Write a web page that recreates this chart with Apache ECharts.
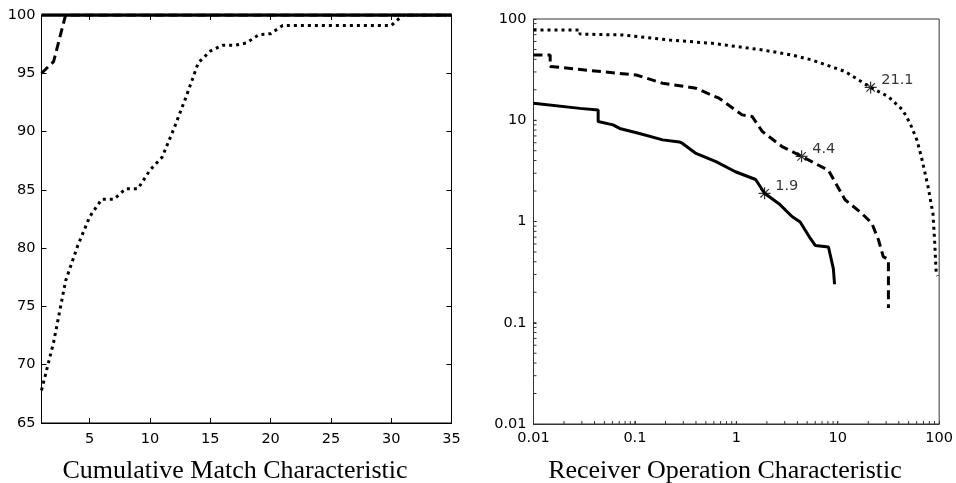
<!DOCTYPE html>
<html>
<head>
<meta charset="utf-8">
<script src="https://cdn.jsdelivr.net/npm/echarts@6/dist/echarts.min.js"></script>
<style>
  html, body { margin: 0; padding: 0; background: #fff; }
  #chart { width: 956px; height: 483px; }
</style>
</head>
<body>
<div id="chart"></div>
<script>
// Cumulative Match Characteristic (rank 1..35)
var ranks = [];
for (var r = 1; r <= 35; r++) ranks.push(r);
var cmcSolid = [100,100,100,100,100,100,100,100,100,100,100,100,100,100,100,100,100,100,100,100,100,100,100,100,100,100,100,100,100,100,100,100,100,100,100];
var cmcDashed = [95,96,100,100,100,100,100,100,100,100,100,100,100,100,100,100,100,100,100,100,100,100,100,100,100,100,100,100,100,100,100,100,100,100,100];
var cmcDotted = [67.8,71.9,77.2,80.2,82.7,84.2,84.2,85.1,85.1,86.7,87.8,90.3,93.0,95.9,96.9,97.4,97.4,97.6,98.3,98.4,99.1,99.1,99.1,99.1,99.1,99.1,99.1,99.1,99.1,99.1,100,100,100,100,100];
var cmcTicks = [5, 10, 15, 20, 25, 30, 35];

// Receiver Operation Characteristic (FAR %, FRR %)
var rocSolidX = [0.01,0.0287,0.0434,0.0434,0.0609,0.0707,0.111,0.188,0.274,0.295,0.40,0.63,0.98,1.55,1.9,2.63,3.54,4.26,5.37,6.0,8.1,9.06,9.3];
var rocSolidY = [14.7,13.1,12.6,9.7,9.0,8.3,7.4,6.4,6.1,5.9,4.7,3.9,3.1,2.6,1.9,1.5,1.12,0.99,0.68,0.58,0.56,0.34,0.24];
var rocDashedX = [0.01,0.0146,0.0146,0.036,0.103,0.188,0.40,0.675,1.14,1.43,1.8,2.82,4.4,8.1,11.8,17.3,21.7,25.2,28.1,31.6,31.6];
var rocDashedY = [44,44,34,31,28,23.2,20.7,16.5,11.3,10.9,7.76,5.5,4.4,3.2,1.64,1.2,0.96,0.66,0.45,0.42,0.14];
var rocDottedX = [0.01,0.0287,0.0287,0.0762,0.219,0.58,1.8,3.54,5.56,11.8,21.1,31.6,43.7,51.7,60.3,66.7,77.6,86.8,90.1,93.5,96.5];
var rocDottedY = [78,78,71,69.5,62,57.5,49.5,44.1,39.4,30.3,21.1,17.1,12.6,9.3,6.4,4.37,2.22,1.2,0.66,0.31,0.29];
var eerValues = [1.9, 4.4, 21.1];
var logTicks = [0.02,0.03,0.04,0.05,0.06,0.07,0.08,0.09,
  0.1,0.2,0.3,0.4,0.5,0.6,0.7,0.8,0.9,
  1,2,3,4,5,6,7,8,9,
  10,20,30,40,50,60,70,80,90];

function zip(xs, ys) {
  return xs.map(function (x, i) { return [x, ys[i]]; });
}

var tickFont = { fontFamily: 'DejaVu Sans', fontSize: 14.5, color: '#000' };
var black = { color: '#000', width: 1 };
var gray = { color: '#333', width: 1 };

// minor ticks of the log axes, placed through the axes' own scales
function logTickItem(params, api) {
  var v = api.value(0);
  var px = api.coord([v, 0.01]);
  var py = api.coord([0.01, v]);
  var st = { stroke: '#333', lineWidth: 1 };
  return {
    type: 'group',
    children: [
      { type: 'line', shape: { x1: px[0], y1: px[1], x2: px[0], y2: px[1] - 3 }, style: st },
      { type: 'line', shape: { x1: py[0], y1: py[1], x2: py[0] + 3, y2: py[1] }, style: st }
    ]
  };
}

var chart = echarts.init(document.getElementById('chart'));

chart.setOption({
  animation: false,
  backgroundColor: '#fff',
  grid: [
    { left: 41.5, top: 15, width: 410, height: 408, show: true, borderColor: '#000', borderWidth: 1, backgroundColor: 'transparent' },
    { left: 533.5, top: 19, width: 408, height: 405, show: true, borderColor: '#333', borderWidth: 1, backgroundColor: 'transparent' }
  ],
  xAxis: [
    {
      gridIndex: 0, type: 'value', min: 1, max: 35, position: 'bottom',
      axisLine: { show: true, onZero: false, lineStyle: black },
      axisTick: { inside: true, length: 5, lineStyle: black, customValues: cmcTicks },
      axisLabel: Object.assign({ margin: 9, customValues: cmcTicks }, tickFont),
      splitLine: { show: false }
    },
    {
      gridIndex: 0, type: 'value', min: 1, max: 35, position: 'top',
      axisLine: { show: true, onZero: false, lineStyle: black },
      axisTick: { inside: true, length: 5, lineStyle: black, customValues: cmcTicks },
      axisLabel: { show: false },
      splitLine: { show: false }
    },
    {
      gridIndex: 1, type: 'log', logBase: 10, min: 0.01, max: 100, position: 'bottom',
      axisLine: { show: true, onZero: false, lineStyle: gray },
      axisTick: { show: true, inside: true, length: 3, lineStyle: gray },
      axisLabel: Object.assign({ margin: 7 }, tickFont),
      splitLine: { show: false }
    }
  ],
  yAxis: [
    {
      gridIndex: 0, type: 'value', min: 65, max: 100, interval: 5, position: 'left',
      axisLine: { show: true, onZero: false, lineStyle: black },
      axisTick: { inside: true, length: 5, lineStyle: black },
      axisLabel: Object.assign({ margin: 6 }, tickFont),
      splitLine: { show: false }
    },
    {
      gridIndex: 0, type: 'value', min: 65, max: 100, interval: 5, position: 'right',
      axisLine: { show: true, onZero: false, lineStyle: black },
      axisTick: { inside: true, length: 5, lineStyle: black },
      axisLabel: { show: false },
      splitLine: { show: false }
    },
    {
      gridIndex: 1, type: 'log', logBase: 10, min: 0.01, max: 100, position: 'left',
      axisLine: { show: true, onZero: false, lineStyle: gray },
      axisTick: { show: true, inside: true, length: 3, lineStyle: gray },
      axisLabel: Object.assign({ margin: 7 }, tickFont),
      splitLine: { show: false }
    }
  ],
  series: [
    {
      type: 'line', xAxisIndex: 0, yAxisIndex: 0, showSymbol: false,
      data: zip(ranks, cmcDotted),
      lineStyle: { color: '#000', width: 3, type: [3, 4], cap: 'butt' }
    },
    {
      type: 'line', xAxisIndex: 0, yAxisIndex: 0, showSymbol: false,
      data: zip(ranks, cmcDashed),
      lineStyle: { color: '#000', width: 3, type: [9, 5] }
    },
    {
      type: 'line', xAxisIndex: 0, yAxisIndex: 0, showSymbol: false,
      data: zip(ranks, cmcSolid),
      lineStyle: { color: '#000', width: 3.5 }
    },
    {
      type: 'custom', xAxisIndex: 2, yAxisIndex: 2, clip: false, silent: true,
      data: logTicks.map(function (v) { return [v]; }),
      encode: { x: -1, y: -1 },
      renderItem: logTickItem
    },
    {
      type: 'line', xAxisIndex: 2, yAxisIndex: 2, showSymbol: false,
      data: zip(rocSolidX, rocSolidY),
      lineStyle: { color: '#000', width: 3 }
    },
    {
      type: 'line', xAxisIndex: 2, yAxisIndex: 2, showSymbol: false,
      data: zip(rocDashedX, rocDashedY),
      lineStyle: { color: '#000', width: 3, type: [9, 5] }
    },
    {
      type: 'line', xAxisIndex: 2, yAxisIndex: 2, showSymbol: false,
      data: zip(rocDottedX, rocDottedY),
      lineStyle: { color: '#000', width: 3, type: [3, 4], cap: 'butt' }
    },
    {
      type: 'scatter', xAxisIndex: 2, yAxisIndex: 2, z: 5,
      data: zip(eerValues, eerValues),
      symbol: 'path://M5,0L5,10M0,5L10,5M1.5,1.5L8.5,8.5M1.5,8.5L8.5,1.5',
      symbolSize: 12,
      itemStyle: { color: 'rgba(0,0,0,0)', borderColor: '#000', borderWidth: 1.2 },
      label: {
        show: true, position: 'right', distance: 4, offset: [0, -7],
        fontFamily: 'DejaVu Sans', fontSize: 14.5, color: '#000',
        formatter: function (p) { return String(p.value[0]); }
      }
    }
  ],
  graphic: [
    { type: 'text', x: 235, y: 471, style: { text: 'Cumulative Match Characteristic', align: 'center', verticalAlign: 'middle', font: '26px "Liberation Serif"', fill: '#000' } },
    { type: 'text', x: 725, y: 471, style: { text: 'Receiver Operation Characteristic', align: 'center', verticalAlign: 'middle', font: '26px "Liberation Serif"', fill: '#000' } }
  ]
});
</script>
</body>
</html>
